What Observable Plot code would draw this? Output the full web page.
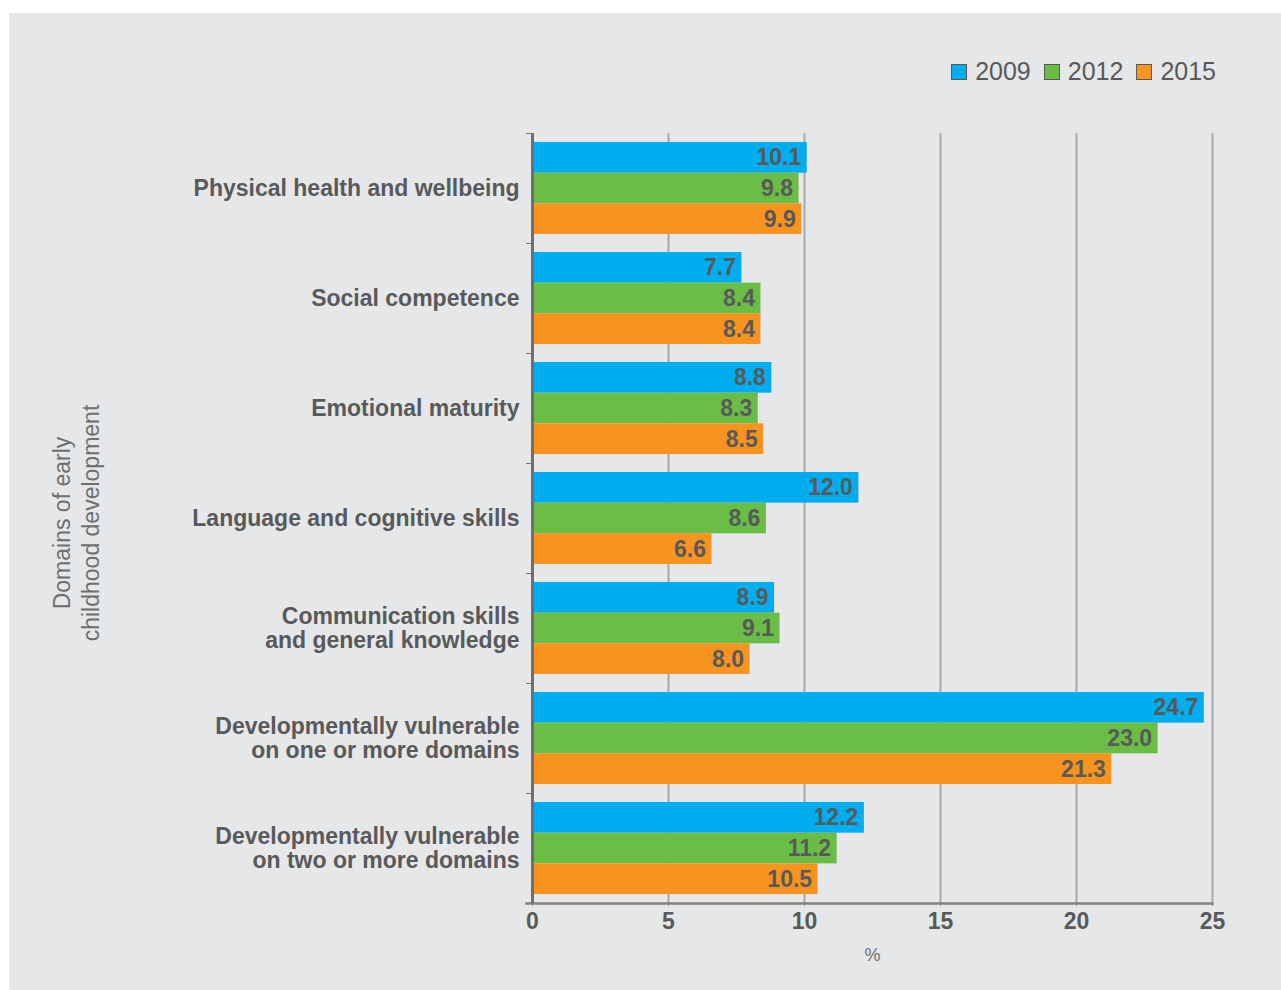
<!DOCTYPE html>
<html>
<head>
<meta charset="utf-8">
<script src="https://cdn.jsdelivr.net/npm/d3@7"></script>
<script src="https://cdn.jsdelivr.net/npm/@observablehq/plot@0.6"></script>
<style>
  body { margin: 0; background: #ffffff; }
  #panel { position: absolute; left: 9px; top: 13px; width: 1272px; height: 977px; background: #e6e7e8; overflow: hidden; }
  #legend { position: absolute; top: 44px; right: 65px; display: flex; align-items: center; font-family: "Liberation Sans", Arial, sans-serif; font-size: 25px; color: #58595b; }
  #legend .item { display: flex; align-items: center; margin-left: 13px; }
  #legend .sw { width: 14px; height: 14px; border: 1px solid #58595b; margin-right: 8px; }
  #ytitle { position: absolute; left: 68px; top: 510px; transform: translate(-50%, -50%) rotate(-90deg); white-space: nowrap; text-align: center; font-family: "Liberation Sans", Arial, sans-serif; font-size: 23px; line-height: 29px; color: #6d6e70; }
  #panel svg [aria-label="y-axis tick label"] text, #panel svg [aria-label="y-axis tick label"] { font-weight: bold; }
  #panel svg [aria-label="x-axis tick label"] { font-weight: bold; }
  #panel svg [aria-label="x-axis label"] { font-weight: normal; font-size: 18px; fill: #6d6e70; }
</style>
</head>
<body>
<div id="panel">
  <div id="legend"></div>
  <div id="ytitle">Domains of early<br>childhood development</div>
</div>
<script>
const categories = [
  "Physical health and wellbeing",
  "Social competence",
  "Emotional maturity",
  "Language and cognitive skills",
  "Communication skills\nand general knowledge",
  "Developmentally vulnerable\non one or more domains",
  "Developmentally vulnerable\non two or more domains"
];
const years = ["2009", "2012", "2015"];
const values2009 = [10.1, 7.7, 8.8, 12.0, 8.9, 24.7, 12.2];
const values2012 = [9.8, 8.4, 8.3, 8.6, 9.1, 23.0, 11.2];
const values2015 = [9.9, 8.4, 8.5, 6.6, 8.0, 21.3, 10.5];
const colors = ["#00adee", "#6abd45", "#f7931e"];
const xTicks = [0, 5, 10, 15, 20, 25];

const seriesValues = [values2009, values2012, values2015];
const data = years.flatMap((year, j) =>
  categories.map((category, i) => ({category, year, value: seriesValues[j][i]}))
);

// layout
const W = 1272, H = 977;
const mt = 120, mb = 87, ml = 523, mr = 69;
const bw = (H - mt - mb) / categories.length;
const groupPad = 0.082;
const sub = bw * (1 - 2 * groupPad) / years.length;
const textColor = "#58595b";

const barMarks = [];
const textMarks = [];
years.forEach((year, j) => {
  const rows = data.filter(d => d.year === year);
  const insetTop = bw * groupPad + j * sub;
  const insetBottom = bw - insetTop - sub;
  barMarks.push(Plot.barX(rows, {x: "value", y: "category", fill: "year", insetTop, insetBottom}));
  textMarks.push(Plot.text(rows, {
    x: "value", y: "category", text: d => d.value.toFixed(1),
    textAnchor: "end", dx: -6, dy: insetTop + sub / 2 - bw / 2,
    fontWeight: "bold", fontSize: 23, fill: textColor
  }));
});

const chart = Plot.plot({
  width: W, height: H,
  marginTop: mt, marginBottom: mb, marginLeft: ml, marginRight: mr,
  style: {background: "transparent", fontFamily: "Liberation Sans, Arial, sans-serif", color: textColor, overflow: "visible"},
  x: {domain: [0, 25]},
  y: {domain: categories, padding: 0, round: false},
  color: {domain: years, range: colors},
  marks: [
    Plot.gridX(xTicks.filter(t => t > 0), {stroke: "#a7a9ac", strokeWidth: 2, strokeOpacity: 1}),
    ...barMarks,
    ...textMarks,
    Plot.ruleY(categories, {y: d => d, x1: 0, x2: 0, insetLeft: -6, dy: -bw / 2, stroke: "#6d6e70", strokeWidth: 1}),
    Plot.frame({anchor: "bottom", stroke: "#808285", strokeWidth: 2.5, insetLeft: -6}),
    Plot.ruleX([0], {stroke: "#6d6e70", strokeWidth: 3}),
    Plot.axisY({tickSize: 0, tickPadding: 13, fontSize: 23, fontWeight: "bold", label: null, lineHeight: 1.05, fill: textColor}),
    Plot.axisX({ticks: xTicks, tickSize: 3, tickPadding: 6, fontSize: 23, fontWeight: "bold", stroke: "#808285", fill: textColor,
      label: "%", labelAnchor: "center", labelArrow: "none", labelOffset: 57})
  ]
});
document.getElementById("panel").appendChild(chart);

const legend = document.getElementById("legend");
years.forEach((y, j) => {
  const item = document.createElement("div");
  item.className = "item";
  const sw = document.createElement("div");
  sw.className = "sw";
  sw.style.background = colors[j];
  const t = document.createElement("span");
  t.textContent = y;
  item.appendChild(sw);
  item.appendChild(t);
  legend.appendChild(item);
});
</script>
</body>
</html>
